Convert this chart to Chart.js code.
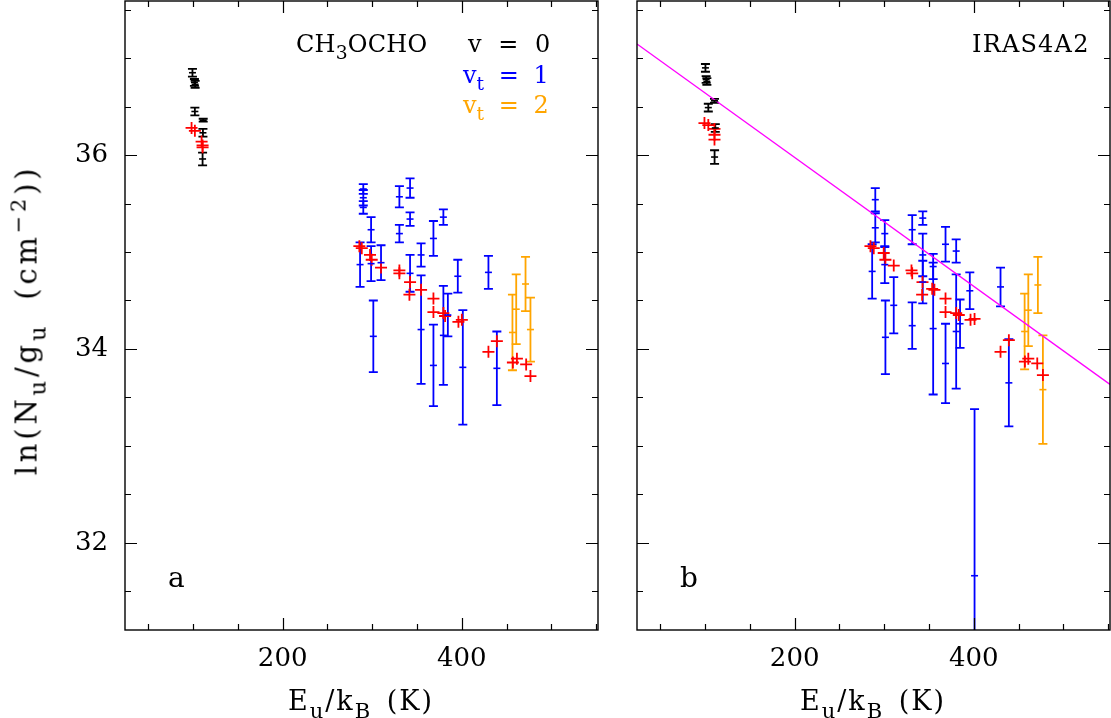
<!DOCTYPE html>
<html><head><meta charset="utf-8">
<script src="https://cdn.jsdelivr.net/npm/chart.js@4.4.0/dist/chart.umd.min.js"></script>
<style>
html,body{margin:0;padding:0;background:#fff;}
#wrap{position:relative;width:1111px;height:718px;overflow:hidden;font-family:'DejaVu Serif',serif;}
canvas{position:absolute;top:0;}
.t{position:absolute;white-space:nowrap;line-height:1;color:#000;font-family:'DejaVu Serif',serif;}
.t sub{font-size:0.78em;vertical-align:-0.4em;line-height:0;}
.t sup{font-size:0.72em;vertical-align:0.55em;line-height:0;}
</style></head><body>
<div id="wrap">
<canvas id="ca" width="610" height="718" style="left:0"></canvas>
<canvas id="cb" width="511" height="718" style="left:600px"></canvas>

<div class="t" style="left:296px;top:31.7px;font-size:24px;letter-spacing:0.2px;">CH<sub>3</sub>OCHO</div>
<div class="t" style="left:468px;top:31.7px;font-size:24px;word-spacing:9px;">v = 0</div>
<div class="t" style="left:463px;top:63px;font-size:24px;word-spacing:7px;color:#0000ff;">v<sub>t</sub> = 1</div>
<div class="t" style="left:463px;top:92.7px;font-size:24px;word-spacing:7px;color:#ffa500;">v<sub>t</sub> = 2</div>
<div class="t" style="left:972px;top:31.7px;font-size:24px;letter-spacing:1.2px;">IRAS4A2</div>
<div class="t" style="left:168px;top:564px;font-size:28px;">a</div>
<div class="t" style="left:680px;top:564px;font-size:28px;">b</div>
<div class="t" style="left:27px;top:320px;font-size:29px;letter-spacing:3.8px;word-spacing:10px;transform:translate(-50%,-50%) rotate(-90deg);">ln(N<sub>u</sub>/g<sub>u</sub> (cm<sup>−2</sup>))</div>
<div class="t" style="left:361px;top:687px;font-size:27px;letter-spacing:2px;word-spacing:4px;transform:translateX(-50%);">E<sub>u</sub>/k<sub>B</sub> (K)</div>
<div class="t" style="left:873px;top:687px;font-size:27px;letter-spacing:2px;word-spacing:4px;transform:translateX(-50%);">E<sub>u</sub>/k<sub>B</sub> (K)</div>
</div>
<script>
// ---------- axis ----------
const xRange = [24, 552];
const yRange = [31.1, 37.59];
const xTickVals = [50, 100, 150, 200, 250, 300, 350, 400, 450, 500, 550];
const xLabelVals = [200, 400];
const yTickVals = [31.5, 32, 32.5, 33, 33.5, 34, 34.5, 35, 35.5, 36, 36.5, 37, 37.5];
const yLabelVals = [32, 34, 36];

// ---------- panel a ----------
const eA_v0  = [99.3, 101.5, 102.3, 102.0, 111.3, 111.0, 110.6];
const lnA_v0 = [36.85, 36.75, 36.73, 36.45, 36.36, 36.23, 35.96];
const erA_v0 = [0.04, 0.035, 0.035, 0.04, 0.015, 0.04, 0.065];

const eA_v1  = [286.4, 290.0, 290.0, 290.0, 298.7, 298.7, 301.2, 309.8, 330.3, 330.3, 342.2, 342.2, 342.2, 354.5, 354.5, 368.3, 368.3, 379.4, 379.4, 384.4, 395.5, 401.1, 429.7, 439.1];
const lnA_v1 = [34.87, 35.65, 35.56, 35.46, 35.23, 34.88, 34.13, 34.89, 35.57, 35.19, 35.66, 35.34, 34.78, 34.97, 34.20, 35.14, 33.83, 35.36, 34.14, 34.35, 34.75, 33.81, 34.79, 33.80];
const erA_v1 = [0.23, 0.05, 0.08, 0.065, 0.13, 0.18, 0.37, 0.18, 0.11, 0.09, 0.10, 0.07, 0.19, 0.12, 0.56, 0.18, 0.42, 0.08, 0.51, 0.22, 0.17, 0.59, 0.17, 0.38];

const eA_v2  = [456.5, 460.7, 471.1, 476.6];
const lnA_v2 = [34.17, 34.41, 34.67, 34.20];
const erA_v2 = [0.39, 0.36, 0.28, 0.33];

const eA_mod  = [98.3, 102.0, 109.5, 110.6, 110.6, 285.6, 288.3, 297.5, 299.4, 309.8, 330.3, 330.3, 341.5, 342.2, 354.5, 368.3, 368.3, 379.4, 381.3, 396.2, 400.0, 429.7, 439.1, 457.0, 461.5, 471.8, 476.6];
const lnA_mod = [36.28, 36.25, 36.14, 36.10, 36.08, 35.06, 35.04, 34.97, 34.92, 34.84, 34.81, 34.78, 34.56, 34.69, 34.61, 34.52, 34.38, 34.37, 34.34, 34.28, 34.30, 33.97, 34.08, 33.86, 33.90, 33.84, 33.72];

// ---------- panel b ----------
const eB_v0  = [100.4, 101.2, 102.0, 103.6, 110.5, 111.4, 110.6];
const lnB_v0 = [36.90, 36.78, 36.76, 36.49, 36.56, 36.28, 35.98];
const erB_v0 = [0.04, 0.035, 0.035, 0.04, 0.02, 0.04, 0.07];

const eB_v1  = [286.5, 290.0, 290.0, 300.6, 300.6, 301.3, 310.6, 331.2, 331.2, 343.0, 343.0, 343.0, 354.6, 354.6, 368.4, 368.4, 380.3, 380.3, 384.6, 395.5, 400.8, 429.8, 439.1];
const lnB_v1 = [34.80, 35.54, 35.25, 35.19, 34.87, 34.12, 34.45, 35.23, 34.24, 35.35, 34.97, 34.69, 34.85, 34.21, 35.08, 33.85, 35.01, 34.18, 34.26, 34.60, 31.66, 34.64, 33.65];
const erB_v1 = [0.28, 0.12, 0.15, 0.14, 0.19, 0.38, 0.29, 0.15, 0.24, 0.07, 0.22, 0.22, 0.13, 0.68, 0.18, 0.41, 0.12, 0.59, 0.25, 0.19, 1.72, 0.20, 0.45];

const eB_v2  = [456.7, 460.8, 471.5, 477.1];
const lnB_v2 = [34.18, 34.40, 34.66, 33.58];
const erB_v2 = [0.39, 0.37, 0.29, 0.56];

const eB_mod  = [99.3, 103.6, 110.5, 110.5, 110.5, 284.6, 288.3, 299.4, 301.3, 310.6, 330.4, 331.2, 342.3, 342.7, 353.5, 356.0, 368.4, 368.4, 380.3, 383.2, 396.3, 400.8, 429.8, 439.1, 457.0, 460.8, 470.8, 477.1];
const lnB_mod = [36.33, 36.31, 36.27, 36.21, 36.16, 35.06, 35.04, 34.99, 34.92, 34.86, 34.81, 34.78, 34.56, 34.69, 34.62, 34.61, 34.52, 34.38, 34.37, 34.35, 34.30, 34.31, 33.97, 34.09, 33.87, 33.90, 33.85, 33.73];

const fitE  = [24, 552];
const fitLn = [37.146, 33.634];

// ---------- helpers ----------
const FONT = 'DejaVu Serif';
const pts = (xs, ys) => xs.map((x, i) => ({x: x, y: ys[i]}));

const errBars = {
  id: 'errBars',
  beforeDatasetsDraw(chart) {
    const {ctx, chartArea: a, scales: {x, y}} = chart;
    ctx.save();
    ctx.beginPath();
    ctx.rect(a.left, a.top, a.right - a.left, a.bottom - a.top);
    ctx.clip();
    chart.data.datasets.forEach(ds => {
      if (!ds.errors) return;
      ctx.strokeStyle = ds.borderColor;
      ctx.lineWidth = 1.8;
      ds.data.forEach((p, i) => {
        const e = ds.errors[i];
        const px = x.getPixelForValue(p.x);
        const y1 = y.getPixelForValue(p.y + e);
        const y2 = y.getPixelForValue(p.y - e);
        const c = ds.capHalf;
        ctx.beginPath();
        ctx.moveTo(px, y1); ctx.lineTo(px, y2);
        ctx.moveTo(px - c, y1); ctx.lineTo(px + c, y1);
        ctx.moveTo(px - c, y2); ctx.lineTo(px + c, y2);
        ctx.stroke();
      });
    });
    ctx.restore();
  }
};

const frameTicks = {
  id: 'frameTicks',
  afterDraw(chart) {
    const {ctx, chartArea: a, scales: {x, y}} = chart;
    ctx.save();
    ctx.strokeStyle = '#000';
    ctx.lineWidth = 1.4;
    ctx.strokeRect(a.left, a.top, a.right - a.left, a.bottom - a.top);
    ctx.beginPath();
    xTickVals.forEach(v => {
      const px = Math.round(x.getPixelForValue(v)) + 0.5;
      const L = xLabelVals.includes(v) ? 12 : 6;
      ctx.moveTo(px, a.bottom); ctx.lineTo(px, a.bottom - L);
      ctx.moveTo(px, a.top); ctx.lineTo(px, a.top + L);
    });
    yTickVals.forEach(v => {
      const py = Math.round(y.getPixelForValue(v)) + 0.5;
      const L = yLabelVals.includes(v) ? 12 : 6;
      ctx.moveTo(a.left, py); ctx.lineTo(a.left + L, py);
      ctx.moveTo(a.right, py); ctx.lineTo(a.right - L, py);
    });
    ctx.lineWidth = 1.2;
    ctx.stroke();
    ctx.restore();
  }
};

function zeroPad(s) { s.paddingTop = 0; s.paddingBottom = 0; s.paddingLeft = 0; s.paddingRight = 0; }

function makeChart(id, d, showY, yWidth, padRight) {
  const datasets = [
    {label: 'v=0', data: pts(d.e0, d.l0), errors: d.r0, capHalf: 4.5, borderColor: '#000000', backgroundColor: '#000000',
     pointStyle: 'line', pointRadius: 3.5, borderWidth: 1.6},
    {label: 'vt=1', data: pts(d.e1, d.l1), errors: d.r1, capHalf: 4.5, borderColor: '#0000ff', backgroundColor: '#0000ff',
     pointStyle: 'line', pointRadius: 3.5, borderWidth: 1.6},
    {label: 'vt=2', data: pts(d.e2, d.l2), errors: d.r2, capHalf: 4.5, borderColor: '#ffa500', backgroundColor: '#ffa500',
     pointStyle: 'line', pointRadius: 3.5, borderWidth: 1.6},
    {label: 'model', data: pts(d.em, d.lm), borderColor: '#ff0000', backgroundColor: '#ff0000',
     pointStyle: 'cross', pointRadius: 6, borderWidth: 1.8}
  ];
  if (d.fit) {
    datasets.push({label: 'fit', data: pts(d.fit[0], d.fit[1]), showLine: true, borderColor: '#ff00ff',
      borderWidth: 1.3, pointRadius: 0, fill: false});
  }
  return new Chart(document.getElementById(id), {
    type: 'scatter',
    data: {datasets},
    options: {
      responsive: false, animation: false, events: [],
      layout: {autoPadding: false, padding: {top: 1, right: padRight, left: 0, bottom: 0}},
      plugins: {legend: {display: false}, tooltip: {enabled: false}},
      scales: {
        x: {type: 'linear', min: xRange[0], max: xRange[1],
            grid: {display: false, drawTicks: false}, border: {display: false},
            afterBuildTicks: s => { s.ticks = xLabelVals.map(v => ({value: v})); },
            afterFit: s => { s.height = 88; zeroPad(s); },
            ticks: {font: {family: FONT, size: 26}, color: '#000', padding: 14, maxRotation: 0, autoSkip: false}},
        y: {type: 'linear', min: yRange[0], max: yRange[1],
            grid: {display: false, drawTicks: false}, border: {display: false},
            afterBuildTicks: s => { s.ticks = yLabelVals.map(v => ({value: v})); },
            afterFit: s => { s.width = yWidth; zeroPad(s); },
            ticks: {display: showY, font: {family: FONT, size: 26}, color: '#000', padding: 17}}
      }
    },
    plugins: [errBars, frameTicks]
  });
}

makeChart('ca', {e0: eA_v0, l0: lnA_v0, r0: erA_v0, e1: eA_v1, l1: lnA_v1, r1: erA_v1,
                 e2: eA_v2, l2: lnA_v2, r2: erA_v2, em: eA_mod, lm: lnA_mod}, true, 125, 12);
makeChart('cb', {e0: eB_v0, l0: lnB_v0, r0: erB_v0, e1: eB_v1, l1: lnB_v1, r1: erB_v1,
                 e2: eB_v2, l2: lnB_v2, r2: erB_v2, em: eB_mod, lm: lnB_mod, fit: [fitE, fitLn]}, false, 37, 1);
</script>
</body></html>
